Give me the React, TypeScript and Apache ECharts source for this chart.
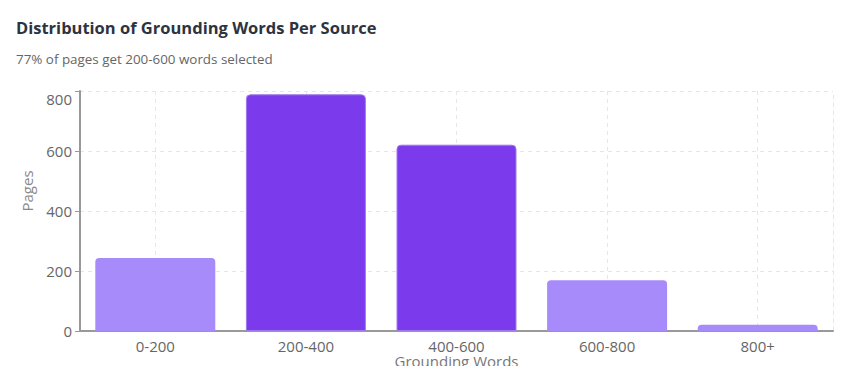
import React, { useEffect, useRef } from "react";
import * as echarts from "echarts";

const categories = ["0-200", "200-400", "400-600", "600-800", "800+"];
const pages = [243, 789, 621, 169, 21];
const highlighted = [false, true, true, false, false];
const yTicks = { min: 0, max: 800, interval: 200 };

const LIGHT = "#a78bfa";
const DARK = "#7c3aed";
const FONT = "'Open Sans', 'Noto Sans', sans-serif";
const GRID = "#e6e6e6";

export default function App() {
  const ref = useRef<HTMLDivElement>(null);
  useEffect(() => {
    if (!ref.current) return;
    const chart = echarts.init(ref.current, undefined, { renderer: "svg" });
    chart.setOption({
      animation: false,
      textStyle: { fontFamily: FONT },
      title: [
        {
          text: "Distribution of Grounding Words Per Source",
          left: 8,
          top: 11,
          padding: 0,
          textStyle: { fontSize: 16.5, fontWeight: "bold", color: "#2d3340", fontFamily: FONT },
        },
        {
          text: "77% of pages get 200-600 words selected",
          left: 8,
          top: 44,
          padding: 0,
          textStyle: { fontSize: 13.4, fontWeight: "normal", color: "#666", fontFamily: FONT },
        },
      ],
      grid: { left: 72, right: 3, top: 83, bottom: 35, containLabel: false, outerBoundsMode: "none" },
      xAxis: {
        type: "category",
        data: categories,
        name: "Grounding Words",
        nameLocation: "middle",
        nameGap: 22,
        nameMoveOverlap: false,
        nameTextStyle: { fontSize: 15, color: "#777" },
        axisLine: { lineStyle: { color: "#999", width: 2 } },
        axisTick: { alignWithLabel: true, length: 5, lineStyle: { color: "#999" } },
        axisLabel: { fontSize: 15, color: "#666", margin: 7 },
        splitLine: { show: true, alignWithLabel: true, lineStyle: { type: [4, 4], color: GRID } },
      },
      yAxis: [
        {
          type: "value",
          min: yTicks.min,
          max: yTicks.max,
          interval: yTicks.interval,
          name: "Pages",
          nameLocation: "middle",
          nameGap: 46,
          nameMoveOverlap: false,
          nameTextStyle: { fontSize: 15, color: "#888", padding: [0, 0, 0, 40] },
          axisLine: { show: true, onZero: false, lineStyle: { color: "#999", width: 2 } },
          axisTick: { show: true, length: 5, lineStyle: { color: "#999" } },
          axisLabel: {
            fontSize: 15,
            color: "#666",
            margin: 8,
            formatter: (v: number) => (v === yTicks.max ? `{top|${v}}` : `${v}`),
            rich: { top: { fontSize: 15, color: "#666", padding: [15, 0, 0, 0] } },
          },
          splitLine: { show: true, lineStyle: { type: [4, 4], color: GRID } },
        },
        {
          type: "value",
          position: "right",
          min: yTicks.min,
          max: yTicks.max,
          interval: yTicks.interval,
          axisLine: { show: true, onZero: false, lineStyle: { color: GRID, type: [4, 4] } },
          axisTick: { show: false },
          axisLabel: { show: false },
          splitLine: { show: false },
        },
      ],
      series: [
        {
          type: "bar",
          barWidth: 120,
          data: pages.map((v, i) => ({
            value: v,
            itemStyle: {
              color: highlighted[i] ? DARK : LIGHT,
              borderRadius: [4, 4, 0, 0],
              borderColor: highlighted[i] ? "#9f7aea" : LIGHT,
              borderWidth: highlighted[i] ? 1 : 0,
            },
          })),
        },
      ],
    });
    return () => chart.dispose();
  }, []);
  return <div ref={ref} style={{ width: 828, height: 358 }} />;
}
